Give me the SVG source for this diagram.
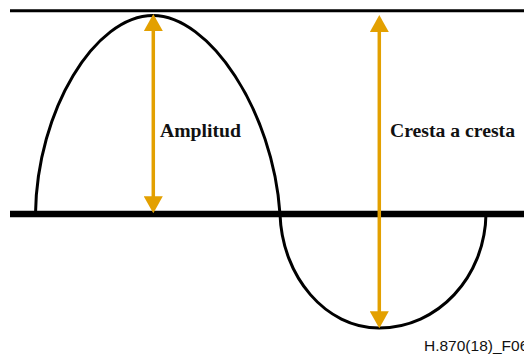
<svg xmlns="http://www.w3.org/2000/svg" width="524" height="358" viewBox="0 0 524 358">
  <style>
    .axis { stroke: #000; fill: none; }
    .wave { stroke: #000; stroke-width: 3; fill: none; }
    .arrow { stroke: #E3A000; stroke-width: 3.5; fill: none; }
    .label { font-family: "Liberation Serif", "Times New Roman", serif; font-weight: bold; font-size: 19.7px; fill: #111; }
    .code { font-family: "Liberation Sans", Arial, sans-serif; font-size: 15.5px; fill: #111; }
  </style>
  <defs>
    <marker id="head" markerUnits="userSpaceOnUse" viewBox="0 0 17 19" markerWidth="17" markerHeight="19" refX="9" refY="9.5" orient="auto-start-reverse">
      <path d="M0,0 L17,9.5 L0,19 Z" fill="#E3A000"/>
    </marker>
  </defs>
  <rect width="524" height="358" fill="#fff"/>
  <g id="axes">
    <line id="crest-line" class="axis" x1="10" y1="10.8" x2="524" y2="10.8" stroke-width="3"/>
    <line id="zero-line" class="axis" x1="10" y1="214" x2="524" y2="214" stroke-width="6.5"/>
  </g>
  <g id="wave">
    <path class="wave" d="M35.5,213.5 C37,110 95,15.5 153,15.5 C209,15.5 273,110 280,214 C282,277 326,328 379,328 C438,328 485,277 486,214"/>
  </g>
  <g id="connectors">
    <line id="amplitude-arrow" class="arrow" x1="153.3" y1="22" x2="153.3" y2="205.3" marker-start="url(#head)" marker-end="url(#head)"/>
    <line id="peak-to-peak-arrow" class="arrow" x1="379.3" y1="23" x2="379.3" y2="320.3" marker-start="url(#head)" marker-end="url(#head)"/>
  </g>
  <g id="amplitude-label">
    <text class="label" x="160" y="136.7">Amplitud</text>
  </g>
  <g id="peak-to-peak-label">
    <text class="label" x="390" y="136.7">Cresta a cresta</text>
  </g>
  <g id="figure-code">
    <text class="code" x="424" y="351">H.870(18)_F06</text>
  </g>
</svg>
